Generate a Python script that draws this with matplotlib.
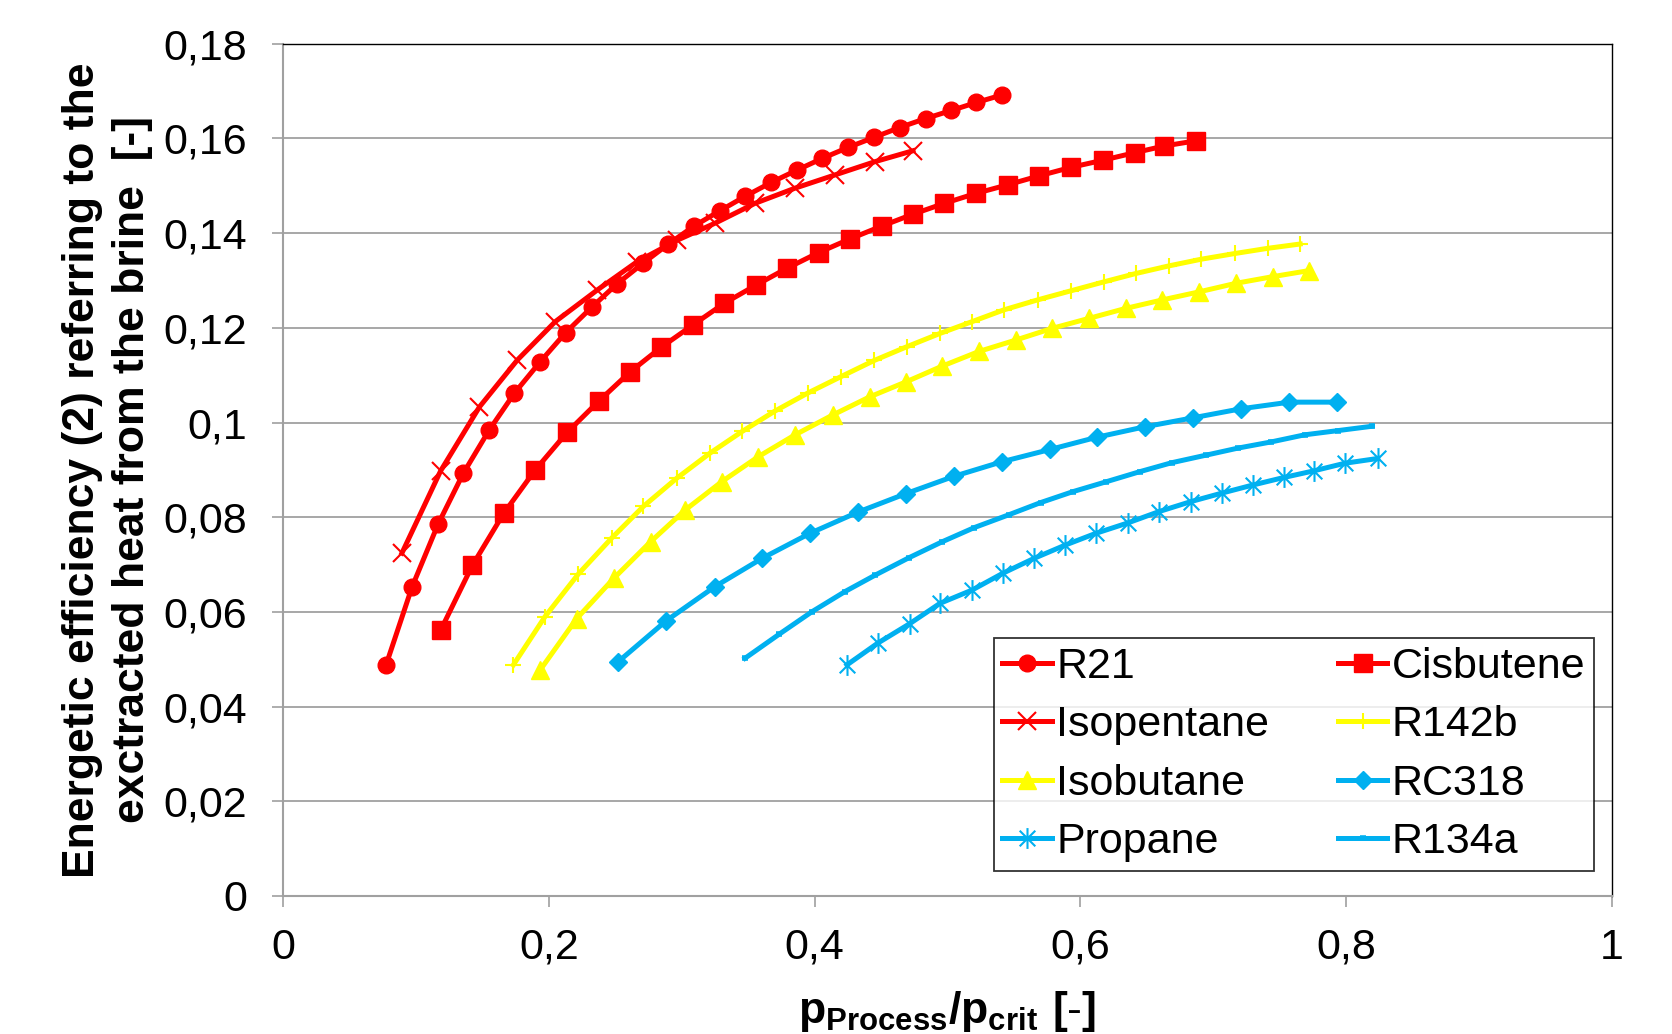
# Energetic efficiency vs reduced process pressure for several working fluids

import matplotlib
matplotlib.use('Agg')
import matplotlib.pyplot as plt
from matplotlib.ticker import MultipleLocator, FuncFormatter
from matplotlib.path import Path

plt.rcParams['font.family'] = ['Liberation Sans', 'DejaVu Sans']
plt.rcParams['mathtext.fontset'] = 'custom'
plt.rcParams['mathtext.rm'] = 'Liberation Sans'
plt.rcParams['mathtext.bf'] = 'Liberation Sans:bold'

# ------ data ------
r21_x = [0.0775, 0.0971, 0.1166, 0.1357, 0.1551, 0.1741, 0.1934, 0.2127, 0.2321, 0.2514, 0.2707,
         0.2900, 0.3093, 0.3286, 0.3479, 0.3673, 0.3866, 0.4059, 0.4252, 0.4445, 0.4639, 0.4835,
         0.5028, 0.5218, 0.5412]
r21_y = [0.0488, 0.0653, 0.0785, 0.0893, 0.0984, 0.1062, 0.1128, 0.1190, 0.1243, 0.1293, 0.1336,
         0.1377, 0.1415, 0.1447, 0.1478, 0.1507, 0.1533, 0.1558, 0.1581, 0.1602, 0.1623, 0.1642,
         0.1659, 0.1676, 0.1692]

cisbutene_x = [0.1187, 0.1424, 0.1660, 0.1898, 0.2137, 0.2375, 0.2612, 0.2846, 0.3084, 0.3321,
               0.3558, 0.3793, 0.4031, 0.4268, 0.4506, 0.4740, 0.4977, 0.5215, 0.5452, 0.5690,
               0.5930, 0.6170, 0.6410, 0.6630, 0.6870]
cisbutene_y = [0.0562, 0.0698, 0.0808, 0.0900, 0.0979, 0.1045, 0.1107, 0.1159, 0.1206, 0.1252,
               0.1290, 0.1326, 0.1359, 0.1388, 0.1415, 0.1440, 0.1463, 0.1484, 0.1502, 0.1521,
               0.1539, 0.1554, 0.1570, 0.1584, 0.1595]

isopentane_x = [0.0894, 0.1186, 0.1478, 0.1763, 0.2048, 0.2365, 0.2666, 0.2966, 0.3251, 0.3552,
                0.3853, 0.4154, 0.4455, 0.4740]
isopentane_y = [0.0724, 0.0898, 0.1033, 0.1132, 0.1213, 0.1280, 0.1340, 0.1385, 0.1421, 0.1463,
                0.1495, 0.1523, 0.1551, 0.1574]

r142b_x = [0.1733, 0.1971, 0.2222, 0.2473, 0.2712, 0.2961, 0.3211, 0.3454, 0.3700, 0.3947,
           0.4199, 0.4448, 0.4693, 0.4942, 0.5184, 0.5425, 0.5678, 0.5926, 0.6176, 0.6421,
           0.6669, 0.6911, 0.7164, 0.7412, 0.7654]
r142b_y = [0.0488, 0.0590, 0.0680, 0.0756, 0.0823, 0.0882, 0.0935, 0.0981, 0.1024, 0.1062,
           0.1097, 0.1131, 0.1160, 0.1188, 0.1213, 0.1238, 0.1259, 0.1278, 0.1297, 0.1315,
           0.1331, 0.1345, 0.1357, 0.1368, 0.1377]

isobutane_x = [0.1934, 0.2210, 0.2489, 0.2765, 0.3025, 0.3301, 0.3577, 0.3853, 0.4137, 0.4413,
               0.4689, 0.4959, 0.5236, 0.5512, 0.5789, 0.6065, 0.6341, 0.6617, 0.6894, 0.7170,
               0.7446, 0.7723]
isobutane_y = [0.0477, 0.0586, 0.0671, 0.0748, 0.0815, 0.0875, 0.0928, 0.0974, 0.1016, 0.1054,
               0.1086, 0.1119, 0.1150, 0.1174, 0.1199, 0.1220, 0.1241, 0.1259, 0.1276, 0.1294,
               0.1308, 0.1321]

rc318_x = [0.2523, 0.2882, 0.3247, 0.3604, 0.3965, 0.4328, 0.4689, 0.5045, 0.5408, 0.5771,
           0.6126, 0.6486, 0.6849, 0.7209, 0.7573, 0.7932]
rc318_y = [0.0495, 0.0581, 0.0653, 0.0713, 0.0766, 0.0811, 0.0850, 0.0886, 0.0917, 0.0943,
           0.0969, 0.0991, 0.1010, 0.1029, 0.1043, 0.1043]

propane_x = [0.4243, 0.4475, 0.4715, 0.4943, 0.5184, 0.5419, 0.5651, 0.5885, 0.6117, 0.6358,
             0.6593, 0.6832, 0.7066, 0.7298, 0.7533, 0.7758, 0.7991, 0.8237]
propane_y = [0.0488, 0.0534, 0.0575, 0.0618, 0.0646, 0.0682, 0.0713, 0.0741, 0.0766, 0.0788,
             0.0812, 0.0833, 0.0851, 0.0868, 0.0884, 0.0898, 0.0914, 0.0924]

r134a_x = [0.3476, 0.3734, 0.3978, 0.4229, 0.4458, 0.4707, 0.4959, 0.5201, 0.5460, 0.5702,
           0.5944, 0.6196, 0.6445, 0.6686, 0.6945, 0.7187, 0.7436, 0.7688, 0.7941, 0.8193]
r134a_y = [0.0502, 0.0553, 0.0600, 0.0643, 0.0678, 0.0714, 0.0748, 0.0778, 0.0805, 0.0831,
           0.0854, 0.0875, 0.0896, 0.0915, 0.0931, 0.0946, 0.0959, 0.0974, 0.0983, 0.0992]

red = '#FF0000'
yellow = '#FFFF00'
blue = '#00B0F0'
grey = '#A0A0A0'

# asterisk marker: vertical line plus an x
asterisk = Path([(0, -1), (0, 1), (-0.75, -0.75), (0.75, 0.75), (-0.75, 0.75), (0.75, -0.75)],
                [Path.MOVETO, Path.LINETO, Path.MOVETO, Path.LINETO, Path.MOVETO, Path.LINETO])

fig, ax = plt.subplots(figsize=(16.72, 10.34), dpi=100)
fig.subplots_adjust(left=0.1693, right=0.9641, top=0.9577, bottom=0.1335)

lw = 3.6
l_r21, = ax.plot(r21_x, r21_y, color=red, lw=lw, marker='o', ms=12, label='R21')
l_cis, = ax.plot(cisbutene_x, cisbutene_y, color=red, lw=lw, marker='s', ms=12.5, label='Cisbutene')
l_iso, = ax.plot(isopentane_x, isopentane_y, color=red, lw=lw, marker='x', ms=13.5, mew=1.5, label='Isopentane')
l_142, = ax.plot(r142b_x, r142b_y, color=yellow, lw=lw, marker='+', ms=12, mew=1.5, label='R142b')
l_ibu, = ax.plot(isobutane_x, isobutane_y, color=yellow, lw=lw, marker='^', ms=13, label='Isobutane')
l_318, = ax.plot(rc318_x, rc318_y, color=blue, lw=lw, marker='D', ms=9, label='RC318')
l_pro, = ax.plot(propane_x, propane_y, color=blue, lw=lw, marker=asterisk, ms=15, mew=1.5, label='Propane')
l_134, = ax.plot(r134a_x, r134a_y, color=blue, lw=lw, marker='_', ms=5, mew=4, label='R134a')

ax.set_xlim(0, 1)
ax.set_ylim(0, 0.18)
ax.xaxis.set_major_locator(MultipleLocator(0.2))
ax.yaxis.set_major_locator(MultipleLocator(0.02))
comma = FuncFormatter(lambda v, pos: f'{round(v, 4):g}'.replace('.', ','))
ax.xaxis.set_major_formatter(comma)
ax.yaxis.set_major_formatter(comma)

ax.grid(axis='y', color=grey, lw=1.3)
ax.set_axisbelow(True)
ax.tick_params(axis='both', direction='out', length=8, width=1.2, color=grey, labelsize=31)
ax.tick_params(axis='y', pad=18)
ax.tick_params(axis='x', pad=15)
for s in ['left', 'bottom']:
    ax.spines[s].set_color(grey)
    ax.spines[s].set_linewidth(1.5)
for s in ['top', 'right']:
    ax.spines[s].set_color('black')
    ax.spines[s].set_linewidth(1.0)

ax.set_xlabel(r'$\mathbf{p}_{\mathbf{Process}}\mathbf{/p}_{\mathbf{crit}}\ \mathbf{[\text{-}]}$', fontsize=32)
ax.xaxis.set_label_coords(0.5, -0.136)
ax.xaxis.label.set_va('center')

ax.set_ylabel('Energetic efficiency (2) referring to the\nexctracted heat from the brine  [-]',
              fontsize=32, fontweight='bold', linespacing=1.3,
              va='center', ha='center', multialignment='center')
ax.yaxis.set_label_coords(-0.132, 0.5)

# legend is filled column by column
handles = [l_r21, l_iso, l_ibu, l_pro, l_cis, l_142, l_318, l_134]
leg = ax.legend(handles=handles, ncol=2, loc='lower right', bbox_to_anchor=(0.9865, 0.0293),
                borderaxespad=0, fontsize=31, frameon=True, fancybox=False, shadow=False,
                edgecolor='black', handlelength=1.15, handletextpad=0.1, columnspacing=1.6,
                labelspacing=0.43, borderpad=0.2, numpoints=1)
leg.get_frame().set_linewidth(1.3)

plt.savefig('out.png', dpi=100)
